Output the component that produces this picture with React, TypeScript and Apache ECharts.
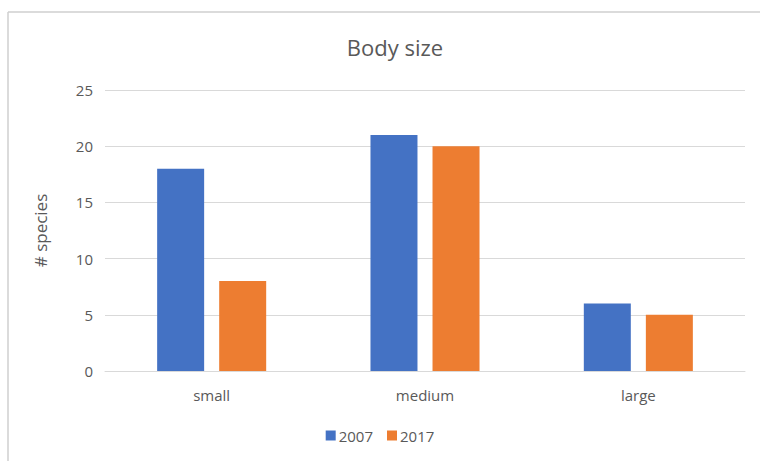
import React, { useEffect, useRef } from "react";
import * as echarts from "echarts";

const categories = ["small", "medium", "large"];
const series2007 = [18, 21, 6];
const series2017 = [8, 20, 5];
const yTicks = [0, 5, 10, 15, 20, 25];

export default function App() {
  const ref = useRef<HTMLDivElement>(null);
  useEffect(() => {
    if (!ref.current) return;
    const chart = echarts.init(ref.current, null, { renderer: "svg" });
    const font = "Open Sans";
    chart.setOption({
      animation: false,
      backgroundColor: "#ffffff",
      title: {
        text: "Body size",
        left: 390,
        textAlign: "center",
        top: 31,
        textStyle: { fontFamily: font, fontSize: 22, fontWeight: "normal", color: "#595959" },
      },
      graphic: [
        { type: "line", shape: { x1: 8, y1: 12, x2: 760, y2: 12 }, style: { stroke: "#cfcfcf", lineWidth: 1.5 } },
        { type: "line", shape: { x1: 8, y1: 12, x2: 8, y2: 461 }, style: { stroke: "#cfcfcf", lineWidth: 1.5 } },
      ],
      legend: {
        bottom: 13,
        left: "center",
        itemWidth: 10,
        itemHeight: 10,
        itemGap: 14,
        icon: "rect",
        textStyle: { fontFamily: font, fontSize: 15, color: "#595959", padding: [0, 0, 0, -2] },
        data: ["2007", "2017"],
      },
      grid: { left: 105, right: 15, top: 90, bottom: 90, containLabel: false },
      xAxis: {
        type: "category",
        data: categories,
        axisTick: { show: false },
        axisLine: { lineStyle: { color: "#d9d9d9" } },
        axisLabel: { fontFamily: font, fontSize: 15, color: "#595959", margin: 16 },
      },
      yAxis: {
        type: "value",
        min: yTicks[0],
        max: yTicks[yTicks.length - 1],
        interval: 5,
        name: "# species",
        nameLocation: "middle",
        nameGap: 56,
        nameTextStyle: { fontFamily: font, fontSize: 17, color: "#595959" },
        axisLabel: { fontFamily: font, fontSize: 15, color: "#595959", margin: 12 },
        splitLine: { lineStyle: { color: "#d9d9d9" } },
        axisLine: { show: false },
        axisTick: { show: false },
      },
      series: [
        { name: "2007", type: "bar", data: series2007, barWidth: 47, barGap: "32%", itemStyle: { color: "#4472C4" } },
        { name: "2017", type: "bar", data: series2017, barWidth: 47, barGap: "32%", itemStyle: { color: "#ED7D31" } },
      ],
    });
    return () => chart.dispose();
  }, []);
  return <div ref={ref} style={{ position: "absolute", left: 0, top: 0, width: 760, height: 461 }} />;
}
